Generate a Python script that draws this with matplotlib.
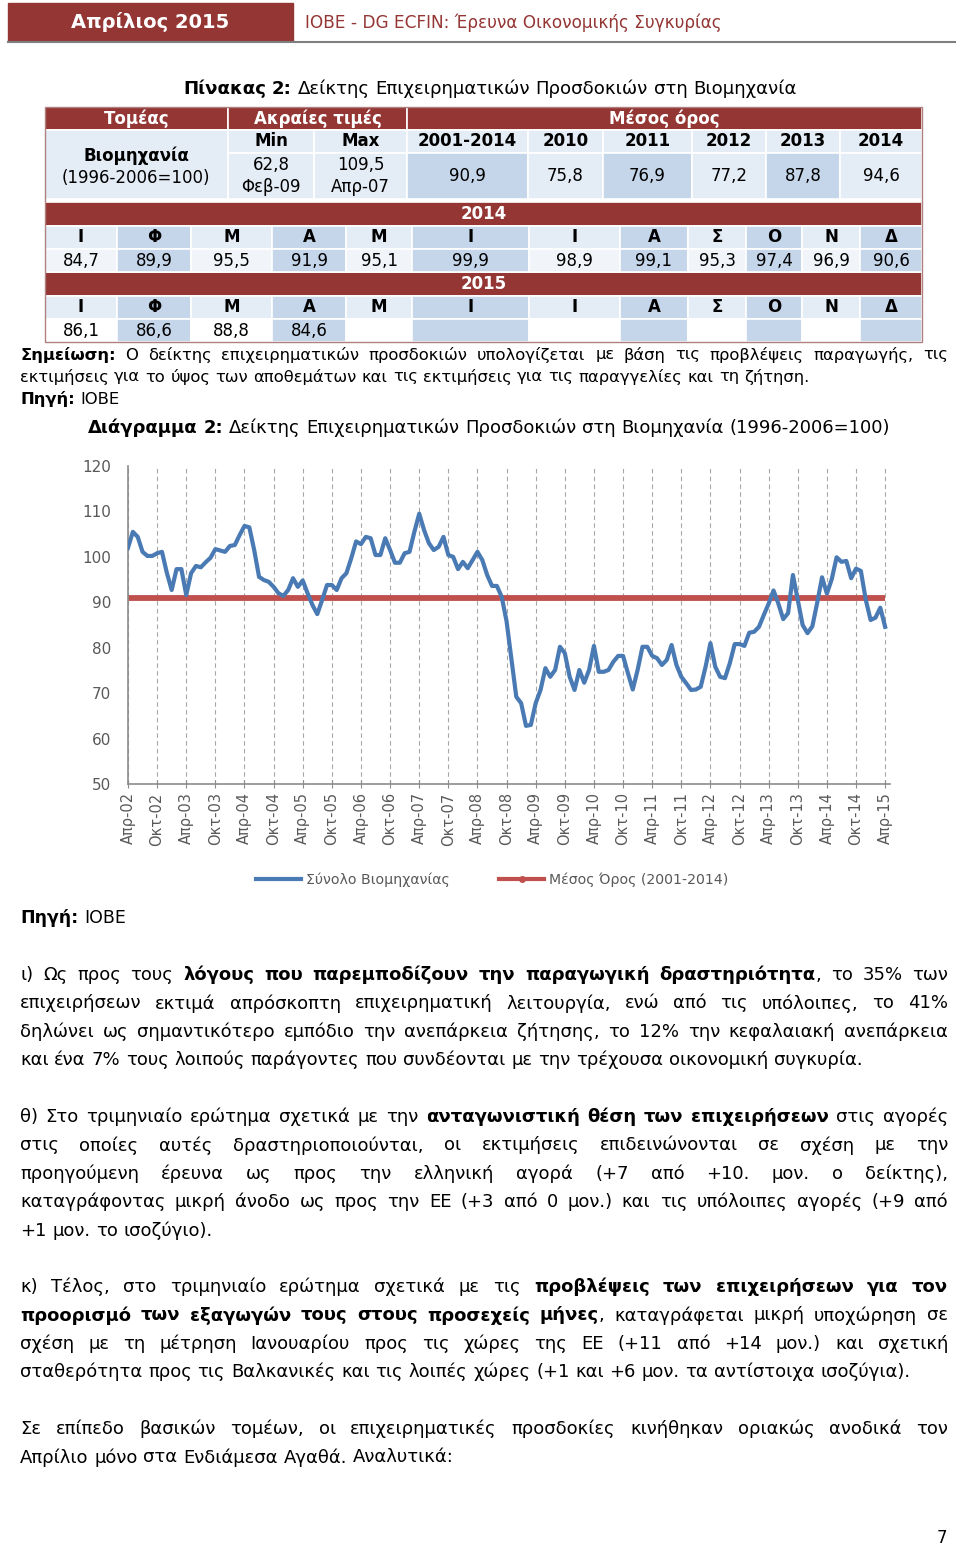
import matplotlib
matplotlib.use('Agg')
import matplotlib.pyplot as plt
from matplotlib.patches import Rectangle
from matplotlib.lines import Line2D

plt.rcParams['font.family'] = ['DejaVu Sans']

# ---- data ----
tick_labels = ['Απρ-02', 'Οκτ-02', 'Απρ-03', 'Οκτ-03', 'Απρ-04', 'Οκτ-04', 'Απρ-05',
               'Οκτ-05', 'Απρ-06', 'Οκτ-06', 'Απρ-07', 'Οκτ-07', 'Απρ-08', 'Οκτ-08',
               'Απρ-09', 'Οκτ-09', 'Απρ-10', 'Οκτ-10', 'Απρ-11', 'Οκτ-11', 'Απρ-12',
               'Οκτ-12', 'Απρ-13', 'Οκτ-13', 'Απρ-14', 'Οκτ-14', 'Απρ-15']

# monthly index, Apr-02 ... Apr-15
industry = [
    102.0, 105.5, 104.4, 101.1, 100.2, 100.2, 100.8, 101.1, 96.5,              # 2002
    92.7, 97.3, 97.3, 91.6, 96.4, 98.0, 97.7, 98.8, 99.8, 101.7, 101.4, 101.1,   # 2003
    102.4, 102.6, 104.8, 106.8, 106.5, 101.5, 95.6, 94.9, 94.5, 93.4, 92.0, 91.4,  # 2004
    92.7, 95.3, 93.4, 94.8, 92.0, 89.4, 87.4, 90.5, 93.8, 93.8, 92.7, 95.3,      # 2005
    96.4, 99.7, 103.4, 102.8, 104.4, 104.1, 100.4, 100.4, 104.1, 101.5, 98.7, 98.7,  # 2006
    100.8, 101.1, 105.5, 109.5, 105.9, 103.0, 101.5, 102.2, 104.4, 100.4, 100.0, 97.3,  # 2007
    98.9, 97.5, 99.3, 101.1, 99.3, 96.0, 93.6, 93.6, 91.2, 85.8, 77.5, 69.2,     # 2008
    67.8, 62.8, 63.0, 67.8, 70.7, 75.5, 73.6, 75.1, 80.2, 78.8, 73.6, 70.7,      # 2009
    75.1, 72.3, 75.1, 80.4, 74.7, 74.7, 75.1, 76.9, 78.2, 78.2, 74.4, 70.8,      # 2010
    75.1, 80.2, 80.2, 78.2, 77.7, 76.2, 77.3, 80.6, 76.2, 73.6, 72.2, 70.7,      # 2011
    70.8, 71.4, 75.8, 81.0, 75.8, 73.6, 73.3, 76.6, 80.8, 80.8, 80.4, 83.3,      # 2012
    83.5, 84.6, 87.2, 89.7, 92.6, 89.7, 86.3, 87.6, 96.0, 90.5, 85.0, 83.2,      # 2013
    84.7, 89.9, 95.5, 91.9, 95.1, 99.9, 98.9, 99.1, 95.3, 97.4, 96.9, 90.6,      # 2014
    86.1, 86.6, 88.8, 84.6,                                                      # 2015
]
mean_2001_2014 = 90.9

top_header = ['Τομέας', 'Ακραίες τιμές', 'Μέσος όρος']
sub_header = ['Min', 'Max', '2001-2014', '2010', '2011', '2012', '2013', '2014']
sub_values = ['62,8\nΦεβ-09', '109,5\nΑπρ-07', '90,9', '75,8', '76,9', '77,2', '87,8', '94,6']
month_letters = ['Ι', 'Φ', 'Μ', 'Α', 'Μ', 'Ι', 'Ι', 'Α', 'Σ', 'Ο', 'Ν', 'Δ']
values_2014 = ['84,7', '89,9', '95,5', '91,9', '95,1', '99,9', '98,9', '99,1', '95,3', '97,4', '96,9', '90,6']
values_2015 = ['86,1', '86,6', '88,8', '84,6']

# ---- page ----
W, H = 960, 1548
RED = '#943634'
LIGHT = '#e4ecf6'
DARK = '#c6d6ea'
PALE = '#f1f5fa'

fig = plt.figure(figsize=(W / 100, H / 100), dpi=100)
page = fig.add_axes([0, 0, 1, 1])
page.set_xlim(0, W)
page.set_ylim(H, 0)
page.axis('off')
renderer = fig.canvas.get_renderer()


def text_line(x0, y, parts, size, x1=None, color='black'):
    # split into words, keep bold/regular pieces glued when no space between them
    words = []
    prev_space = True
    for txt, bold in parts:
        toks = txt.split(' ')
        for i, tok in enumerate(toks):
            if tok == '':
                continue
            if i == 0 and words and not prev_space:
                words[-1].append((tok, bold))
            else:
                words.append([(tok, bold)])
        prev_space = txt.endswith(' ')
    objs = []
    for word in words:
        pieces = []
        for tok, bold in word:
            t = page.text(0, y, tok, fontsize=size, color=color, va='center', ha='left',
                          fontweight='bold' if bold else 'normal')
            pieces.append((t, t.get_window_extent(renderer).width))
        objs.append(pieces)
    widths = [sum(w for _, w in p) for p in objs]
    gap = size * 100 / 72 * 0.318
    if x1 is not None and len(objs) > 1:
        gap = (x1 - x0 - sum(widths)) / (len(objs) - 1)
    x = x0
    for pieces in objs:
        for t, w in pieces:
            t.set_x(x)
            x += w
        x += gap


def cell(x0, x1, y0, y1, color, label='', bold=False, tcolor='black', size=12):
    page.add_patch(Rectangle((x0, y0), x1 - x0, y1 - y0, facecolor=color,
                             edgecolor='white', lw=1.2))
    if label:
        page.text((x0 + x1) / 2, (y0 + y1) / 2, label, ha='center', va='center',
                  fontsize=size, color=tcolor, fontweight='bold' if bold else 'normal',
                  linespacing=1.3)


# header band
page.add_patch(Rectangle((8, 3), 285, 38, color=RED))
page.text(150, 22, 'Απρίλιος 2015', color='white', fontsize=14, fontweight='bold',
          ha='center', va='center')
page.text(305, 23, 'ΙΟΒΕ - DG ECFIN: Έρευνα Οικονομικής Συγκυρίας', color=RED,
          fontsize=12.2, ha='left', va='center')
page.plot([8, 955], [41.5, 41.5], color='#7f7f7f', lw=1.5)

# table title
text_line(183, 89, [('Πίνακας 2:', True),
                    (' Δείκτης Επιχειρηματικών Προσδοκιών στη Βιομηχανία', False)], 13.1)

# table, top block
top_x = [45, 228, 314, 407, 528, 603, 692, 766, 840, 922]
cell(top_x[0], top_x[1], 107, 130, RED, top_header[0], True, 'white')
cell(top_x[1], top_x[3], 107, 130, RED, top_header[1], True, 'white')
cell(top_x[3], top_x[9], 107, 130, RED, top_header[2], True, 'white')
cell(top_x[0], top_x[1], 130, 199, LIGHT)
page.text(136, 156, 'Βιομηχανία', ha='center', va='center', fontsize=12, fontweight='bold')
page.text(136, 178, '(1996-2006=100)', ha='center', va='center', fontsize=12)
for i, (hd, val) in enumerate(zip(sub_header, sub_values)):
    c2 = DARK if i % 2 == 0 else LIGHT
    cell(top_x[i + 1], top_x[i + 2], 130, 153, LIGHT, hd, True)
    cell(top_x[i + 1], top_x[i + 2], 153, 199, c2 if i > 0 else LIGHT, val)

# table, monthly block
mon_x = [45, 117, 191, 272, 346, 412, 529, 620, 688, 746, 802, 860, 922]
cell(45, 922, 202, 226, RED, '2014', True, 'white')
cell(45, 922, 272, 296, RED, '2015', True, 'white')
for i, m in enumerate(month_letters):
    odd = i % 2 == 1
    cell(mon_x[i], mon_x[i + 1], 226, 249, DARK if odd else LIGHT, m, True)
    cell(mon_x[i], mon_x[i + 1], 249, 272, DARK if odd else PALE, values_2014[i])
    cell(mon_x[i], mon_x[i + 1], 296, 319, DARK if odd else LIGHT, m, True)
    v15 = values_2015[i] if i < len(values_2015) else ''
    cell(mon_x[i], mon_x[i + 1], 319, 342, DARK if odd else 'white', v15)
page.add_patch(Rectangle((45, 107), 877, 235, facecolor='none', edgecolor='#b08080', lw=1))

# notes
text_line(20, 355, [('Σημείωση:', True),
                    (' Ο δείκτης επιχειρηματικών προσδοκιών υπολογίζεται με βάση τις '
                     'προβλέψεις παραγωγής, τις', False)], 11.8, x1=948)
text_line(20, 377, [('εκτιμήσεις για το ύψος των αποθεμάτων και τις εκτιμήσεις για τις '
                     'παραγγελίες και τη ζήτηση.', False)], 11.8)
text_line(20, 399, [('Πηγή:', True), (' ΙΟΒΕ', False)], 11.8)

# chart title
text_line(88, 428, [('Διάγραμμα 2:', True),
                    (' Δείκτης Επιχειρηματικών Προσδοκιών στη Βιομηχανία (1996-2006=100)',
                     False)], 13.0)

# ---- chart ----
ax = fig.add_axes([128 / W, 1 - 784 / H, 762 / W, 318 / H])
months = list(range(len(industry)))
ax.plot(months, [mean_2001_2014] * len(industry), color='#c0504d', lw=4.2,
        solid_capstyle='butt', zorder=2)
ax.plot(months, industry, color='#4a7ab4', lw=3.0, zorder=3)
ax.set_xlim(0, 157)
ax.set_ylim(50, 120)
ax.set_yticks(range(50, 121, 10))
ax.set_xticks(months[::6])
ax.set_xticklabels(tick_labels, rotation=90)
ax.tick_params(axis='y', length=0, pad=12, labelsize=11, labelcolor='#595959')
ax.tick_params(axis='x', direction='inout', length=6, color='#8c8c8c', pad=3,
               labelsize=10.5, labelcolor='#595959')
ax.grid(axis='x', linestyle=(0, (4, 3)), color='#a6a6a6', lw=0.8)
for s in ['top', 'right']:
    ax.spines[s].set_visible(False)
for s in ['left', 'bottom']:
    ax.spines[s].set_color('#8c8c8c')
    ax.spines[s].set_linewidth(1.2)

handles = [Line2D([], [], color='#4a7ab4', lw=3),
           Line2D([], [], color='#c0504d', lw=3, marker='o', ms=4)]
fig.legend(handles, ['Σύνολο Βιομηχανίας', 'Μέσος Όρος (2001-2014)'], loc='center',
           bbox_to_anchor=(492 / W, 1 - 880 / H), ncol=2, frameon=False,
           fontsize=10.2, labelcolor='#595959', handlelength=3.2, columnspacing=3.5,
           handletextpad=0.3)

# ---- body text ----
fs = 13.0
text_line(20, 918, [('Πηγή:', True), (' ΙΟΒΕ', False)], 12.5)

p1 = [
    ([('ι) Ως προς τους ', False),
      ('λόγους που παρεμποδίζουν την παραγωγική δραστηριότητα', True),
      (', το 35% των', False)], True),
    ([('επιχειρήσεων εκτιμά απρόσκοπτη επιχειρηματική λειτουργία, ενώ από τις '
       'υπόλοιπες, το 41%', False)], True),
    ([('δηλώνει ως σημαντικότερο εμπόδιο την ανεπάρκεια ζήτησης, το 12% την '
       'κεφαλαιακή ανεπάρκεια', False)], True),
    ([('και ένα 7% τους λοιπούς παράγοντες που συνδέονται με την τρέχουσα '
       'οικονομική συγκυρία.', False)], False),
]
p2 = [
    ([('θ) Στο τριμηνιαίο ερώτημα σχετικά με την ', False),
      ('ανταγωνιστική θέση των επιχειρήσεων', True), (' στις αγορές', False)], True),
    ([('στις οποίες αυτές δραστηριοποιούνται, οι εκτιμήσεις επιδεινώνονται σε '
       'σχέση με την', False)], True),
    ([('προηγούμενη έρευνα ως προς την ελληνική αγορά (+7 από +10. μον. ο δείκτης),',
       False)], True),
    ([('καταγράφοντας μικρή άνοδο ως προς την ΕΕ (+3 από 0 μον.) και τις υπόλοιπες '
       'αγορές (+9 από', False)], True),
    ([('+1 μον. το ισοζύγιο).', False)], False),
]
p3 = [
    ([('κ) Τέλος, στο τριμηνιαίο ερώτημα σχετικά με τις ', False),
      ('προβλέψεις των επιχειρήσεων για τον', True)], True),
    ([('προορισμό των εξαγωγών τους στους προσεχείς μήνες', True),
      (', καταγράφεται μικρή υποχώρηση σε', False)], True),
    ([('σχέση με τη μέτρηση Ιανουαρίου προς τις χώρες της ΕΕ (+11 από +14 μον.) '
       'και σχετική', False)], True),
    ([('σταθερότητα προς τις Βαλκανικές και τις λοιπές χώρες (+1 και +6 μον. τα '
       'αντίστοιχα ισοζύγια).', False)], False),
]
p4 = [
    ([('Σε επίπεδο βασικών τομέων, οι επιχειρηματικές προσδοκίες κινήθηκαν οριακώς '
       'ανοδικά τον', False)], True),
    ([('Απρίλιο μόνο στα Ενδιάμεσα Αγαθά. Αναλυτικά:', False)], False),
]

for para, y0 in [(p1, 975), (p2, 1117), (p3, 1287), (p4, 1429)]:
    for k, (parts, just) in enumerate(para):
        text_line(20, y0 + k * 28.4, parts, fs, x1=948 if just else None)

page.text(942, 1538, '7', fontsize=12, ha='center', va='center')

fig.savefig('out.png', dpi=100)
